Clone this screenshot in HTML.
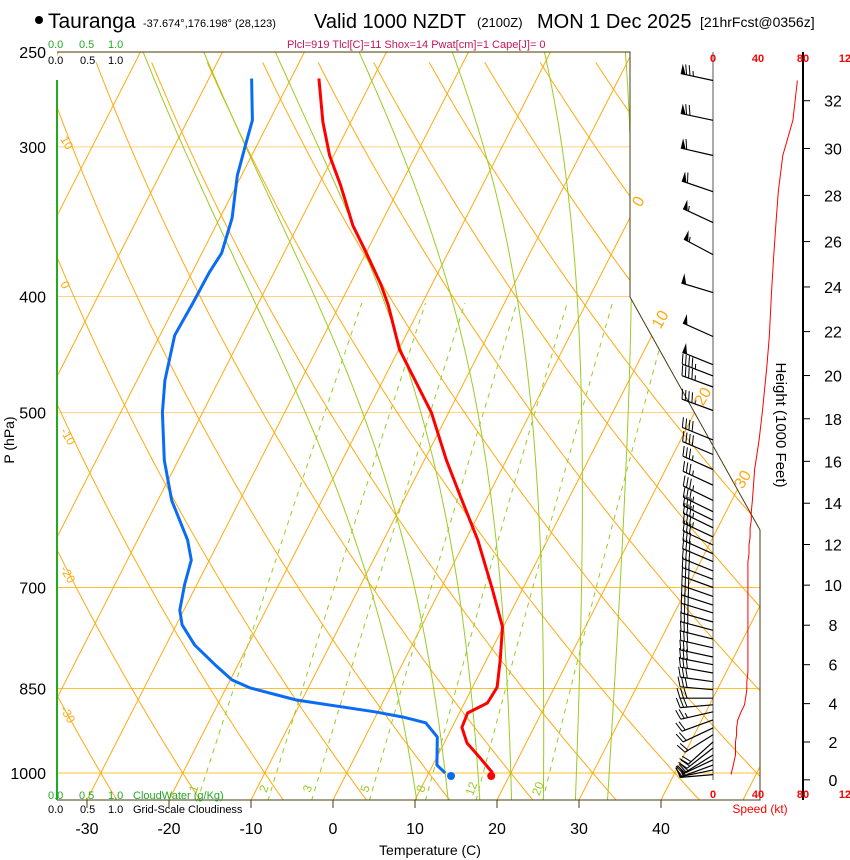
<!DOCTYPE html>
<html><head><meta charset="utf-8"><style>
body{margin:0;background:#fff;}
svg{display:block;font-family:"Liberation Sans",Arial,sans-serif;}
</style></head><body>
<svg id="chart" width="850" height="860" viewBox="0 0 850 860" xmlns="http://www.w3.org/2000/svg">
<defs><clipPath id="frameClip"><polygon points="57,52 630,52 630,297 760,530 760,800 57,800"/></clipPath></defs>
<rect x="0" y="0" width="850" height="860" fill="#fff"/>
<g id="grid" clip-path="url(#frameClip)"></g>
<g id="profiles" clip-path="url(#frameClip)"></g>
<g id="frame">
<polyline points="57,52 630,52 630,297 760,530 760,800 57,800" fill="none" stroke="#4a3c10" stroke-width="1"/>
<line x1="57" y1="80" x2="57" y2="800" stroke="#22aa22" stroke-width="2"/>
<line x1="713" y1="52" x2="713" y2="780" stroke="#555" stroke-width="1"/>
<line x1="803" y1="52" x2="803" y2="800" stroke="#000" stroke-width="2"/>
</g>
<g id="winds"></g>
<g id="labels">
<circle cx="39" cy="20" r="4" fill="#000"/>
<text x="48" y="28" font-size="21">Tauranga</text>
<text x="143" y="27" font-size="11">-37.674°,176.198° (28,123)</text>
<text x="314" y="28" font-size="20">Valid 1000 NZDT</text>
<text x="477" y="27" font-size="13">(2100Z)</text>
<text x="537" y="28" font-size="20">MON 1 Dec 2025</text>
<text x="700" y="27" font-size="14">[21hrFcst@0356z]</text>
<text x="287" y="48" font-size="11" fill="#c0185a">Plcl=919 Tlcl[C]=11 Shox=14 Pwat[cm]=1 Cape[J]= 0</text>
<text x="48" y="48" font-size="11" fill="#22aa22">0.0 <tspan x="79">0.5</tspan><tspan x="108">1.0</tspan></text>
<text x="48" y="64" font-size="11" fill="#000">0.0 <tspan x="80">0.5</tspan><tspan x="108">1.0</tspan></text>
<text x="48" y="799" font-size="11" fill="#22aa22">0.0 <tspan x="79">0.5</tspan><tspan x="108">1.0</tspan><tspan x="133">CloudWater (g/Kg)</tspan></text>
<text x="48" y="813" font-size="11" fill="#000">0.0 <tspan x="80">0.5</tspan><tspan x="108">1.0</tspan><tspan x="133">Grid-Scale Cloudiness</tspan></text>
<text x="430" y="855" font-size="14" text-anchor="middle">Temperature (C)</text>
<text x="0" y="0" font-size="14" text-anchor="middle" transform="translate(14,440) rotate(-90)">P (hPa)</text>
<text x="0" y="0" font-size="15" text-anchor="middle" transform="translate(776,425) rotate(90)">Height (1000 Feet)</text>
<text x="760" y="813" font-size="12" fill="#ff0000" text-anchor="middle">Speed (kt)</text>
</g>
</svg>
<script>
// ---- data ----
const pressureTicks = [250, 300, 400, 500, 700, 850, 1000];
const tempTicks = [-30, -20, -10, 0, 10, 20, 30, 40];
const speedTicks = [0, 40, 80, 120];
const heightTicks = [0, 2, 4, 6, 8, 10, 12, 14, 16, 18, 20, 22, 24, 26, 28, 30, 32];
const tempP = [263, 286, 305, 323, 349, 367, 391, 407, 443, 500, 548, 592, 639, 702, 755, 805, 848, 874, 891, 916, 944, 970, 1000];
const tempC = [-46.6, -43.4, -40.5, -37.3, -33.3, -30.1, -26.2, -24.0, -19.9, -12.1, -7.3, -2.9, 1.5, 6.3, 9.9, 11.7, 13.0, 12.8, 11.0, 11.2, 12.8, 15.2, 17.8];
const dewP = [263, 285, 297, 317, 344, 368, 382, 405, 431, 470, 500, 548, 592, 639, 664, 696, 731, 752, 782, 812, 836, 849, 869, 889, 898, 908, 933, 985, 1000];
const dewC = [-54.8, -52.1, -51.5, -50.5, -48.5, -47.6, -47.9, -48.0, -48.2, -46.6, -44.9, -41.7, -38.3, -33.9, -32.2, -31.5, -30.5, -29.3, -26.5, -22.8, -19.8, -17.1, -10.7, -0.4, 3.4, 6.5, 8.8, 10.5, 12.0];
const sfcTemp = 17.8;
const sfcDew = 12.9;
const windP = [264, 285, 305, 327, 347, 369, 397, 432, 456, 466, 476, 498, 527, 542, 558, 575, 592,
  605, 615, 624, 635, 645, 656, 666, 678, 689, 700, 712, 724, 735, 748, 760, 773, 786, 800, 812, 825,
  839, 852, 866, 877, 889, 903, 917, 929, 942, 953, 966, 975, 985, 994, 1003];
const windSpd = [75, 71, 62, 58, 56, 54, 52, 50, 48, 47, 46, 44, 41, 39, 37, 36, 35,
  34, 34, 33, 33, 32, 32, 31, 31, 31, 31, 31, 31, 31, 31, 31, 31, 31, 31, 31, 31,
  30, 30, 29, 28, 25, 22, 21, 21, 20, 20, 20, 19, 18, 17, 16];
const windDir = [282, 282, 283, 289, 295, 298, 287, 294, 292, 291, 290, 290, 292, 293, 294, 295, 296,
  296, 296, 296, 295, 295, 294, 293, 292, 291, 290, 289, 288, 287, 286, 285, 284, 283, 282, 281, 280,
  278, 275, 270, 265, 257, 250, 245, 238, 228, 232, 238, 245, 250, 258, 265];
const dryThetas = [-40,-30,-20,-10,0,10,20,30,40,50,60,70,80,90,100,110,120,130,140,150,160,170,180,190,200];
const isotherms = [-110,-100,-90,-80,-70,-60,-50,-40,-30,-20,-10,0,10,20,30,40,50,60];
const moistStarts = [8, 12, 16, 20, 24, 28, 32];
const mixRatios = [1, 2, 3, 5, 8, 12, 20];

// ---- axes ----
const Y0 = 773, PSC = 520, X0 = 333, XSC = 8.2, SKEW = 0.51, YB = 800;
function yP(p){ return Y0 - PSC * Math.log(1000 / p); }
function xT(t, y){ return X0 + XSC * t + SKEW * (YB - y); }
function xSpd(s){ return 713 + s * 45 / 40; }
const NS = 'http://www.w3.org/2000/svg';
function mk(parent, tag, attrs, txt){
  const e = document.createElementNS(NS, tag);
  for (const k in attrs) e.setAttribute(k, attrs[k]);
  if (txt !== undefined) e.textContent = txt;
  parent.appendChild(e); return e;
}
const grid = document.getElementById('grid');
const prof = document.getElementById('profiles');
const winds = document.getElementById('winds');
const labels = document.getElementById('labels');
const ORANGE = '#ffaa11', GREEN = '#99cc22';

// isobars
pressureTicks.forEach(p => {
  const y = yP(p);
  const el = mk(grid, 'line', {x1: 57, x2: 760, y1: y, y2: y, stroke: p >= 700 ? '#ffc030' : '#ffd080', 'stroke-width': 1});
  
  
  const t = mk(labels, 'text', {x: 46, y: y + 6, 'font-size': 16, 'text-anchor': 'end'}, String(p));
  
  
});
// isotherms
isotherms.forEach(T => {
  const el = mk(grid, 'line', {x1: xT(T, 800), y1: 800, x2: xT(T, 52), y2: 52, stroke: ORANGE, 'stroke-width': 1});
  
  
});
// dry adiabats
function pList(){ const a = []; for (let p = 1055; p >= 248; p -= 8) a.push(p); return a; }
dryThetas.forEach(th => {
  const pts = pList().map(p => { const T = (th + 273.15) * Math.pow(p / 1000, 0.2857) - 273.15; const y = yP(p); return xT(T, y).toFixed(1) + ',' + y.toFixed(1); });
  const el = mk(grid, 'polyline', {points: pts.join(' '), fill: 'none', stroke: ORANGE, 'stroke-width': 1});
  
  
});
// moist adiabats
function dTdp(p, T){
  const Tc = T - 273.15; const es = 6.112 * Math.exp(17.67 * Tc / (Tc + 243.5)); const rs = 1.15 * 0.622 * es / (p - es);
  const num = 287.04 * T + 2.501e6 * rs; const den = 1004 + 2.501e6 * 2.501e6 * rs * 0.622 / (287.04 * T * T);
  return num / den / p;
}
moistStarts.forEach(t0 => {
  const up = []; let T = t0 + 273.15;
  for (let p = 1000; p >= 248; p -= 2){ up.push([p, T]); T -= dTdp(p, T) * 2; }
  const down = []; T = t0 + 273.15;
  for (let p = 1000; p <= 1056; p += 2){ down.push([p, T]); T += dTdp(p, T) * 2; }
  const all = down.reverse().concat(up);
  const pts = all.map(([p, Tk]) => { const y = yP(p); return xT(Tk - 273.15, y).toFixed(1) + ',' + y.toFixed(1); });
  const el = mk(grid, 'polyline', {points: pts.join(' '), fill: 'none', stroke: GREEN, 'stroke-width': 1});
  
  
});
// mixing ratio lines
mixRatios.forEach(w => {
  const pts = [];
  for (let p = 1055; p >= 400; p -= 10){
    const es = (w / 1000) * p / (0.622 + w / 1000); const l = Math.log(es / 6.112);
    const Td = 243.5 * l / (17.67 - l); const y = yP(p); pts.push(xT(Td, y).toFixed(1) + ',' + y.toFixed(1));
  }
  const el = mk(grid, 'polyline', {points: pts.join(' '), fill: 'none', stroke: GREEN, 'stroke-width': 1, 'stroke-dasharray': '5,5'});
  
  
  const es = (w / 1000) * 1030 / (0.622 + w / 1000); const l = Math.log(es / 6.112); const Td = 243.5 * l / (17.67 - l);
  const lx = xT(Td, yP(1030)) - 4, ly = 790;
  const t = mk(labels, 'text', {x: 0, y: 0, 'font-size': 12, fill: GREEN, 'text-anchor': 'middle', transform: 'translate(' + lx.toFixed(1) + ',' + ly + ') rotate(-70)'}, String(w));
  
  
});
// dry adiabat labels on left, isotherm labels on right
[[10,145],[0,290],[-10,437],[-20,575],[-30,715]].forEach(([v, y]) => {
  const t = mk(labels, 'text', {x: 0, y: 0, 'font-size': 12, fill: ORANGE, transform: 'translate(60,' + (y - 6) + ') rotate(60)'}, String(v));
  
  
});
[[0,200],[10,318],[20,395],[30,478]].forEach(([v, y]) => {
  const t = mk(labels, 'text', {x: 0, y: 0, 'font-size': 16, fill: ORANGE, 'text-anchor': 'middle', transform: 'translate(' + (xT(v, y) + 4).toFixed(1) + ',' + (y + 4) + ') rotate(-60)'}, String(v));
  
  
});
// temperature ticks
tempTicks.forEach(T => {
  const x = X0 + XSC * T;
  const l = mk(labels, 'line', {x1: x, x2: x, y1: 800, y2: 808, stroke: '#4a3c10'});
  
  
  const t = mk(labels, 'text', {x: x, y: 834, 'font-size': 16, 'text-anchor': 'middle'}, String(T));
  
  
});
// speed ticks
speedTicks.forEach(s => {
  [62, 798].forEach(yy => {
    const t = mk(labels, 'text', {x: xSpd(s), y: yy, 'font-size': 11, 'font-weight': 'bold', fill: '#ff0000', 'text-anchor': 'middle'}, String(s));
    
    
  });
});
// height ticks
heightTicks.forEach(h => {
  const p = 1013.25 * Math.pow(1 - 2.25577e-5 * h * 304.8, 5.25588);
  const y = yP(p);
  const l = mk(labels, 'line', {x1: 803, x2: 810, y1: y, y2: y, stroke: '#000'});
  
  
  const t = mk(labels, 'text', {x: 833, y: y + 6, 'font-size': 16, 'text-anchor': 'middle'}, String(h));
  
  
});
// profiles
function profPts(P, T){ return P.map((p, i) => { const y = yP(p); return xT(T[i], y).toFixed(1) + ',' + y.toFixed(1); }).join(' '); }
const dl = mk(prof, 'polyline', {points: profPts(dewP, dewC), fill: 'none', stroke: '#0a6cf5', 'stroke-width': 3, 'stroke-linejoin': 'round'});


const tl = mk(prof, 'polyline', {points: profPts(tempP, tempC), fill: 'none', stroke: '#ff0000', 'stroke-width': 3, 'stroke-linejoin': 'round'});


const dd = mk(prof, 'circle', {cx: xT(sfcDew, yP(1000) + 3), cy: yP(1000) + 3, r: 4, fill: '#0a6cf5'});


const td = mk(prof, 'circle', {cx: xT(sfcTemp, yP(1000) + 3), cy: yP(1000) + 3, r: 4, fill: '#ff0000'});


// speed profile
const sp = mk(winds, 'polyline', {points: windP.map((p, i) => xSpd(windSpd[i]).toFixed(1) + ',' + yP(p).toFixed(1)).join(' '), fill: 'none', stroke: '#ff0000', 'stroke-width': 1});


// barbs
const L = 33;
windP.forEach((p, i) => {
  const sx = 713, sy = yP(p);
  const d = windDir[i] * Math.PI / 180;
  const ux = Math.sin(d), uy = -Math.cos(d);
  const nx = -uy, ny = ux;
  const ex = sx + L * ux, ey = sy + L * uy;
  const g = mk(winds, 'g', {});
  
  
  mk(g, 'line', {x1: sx, y1: sy.toFixed(1), x2: ex.toFixed(1), y2: ey.toFixed(1), stroke: '#000', 'stroke-width': 1.2});
  let s = Math.round(windSpd[i] / 5) * 5;
  let off = 0;
  const pen = Math.floor(s / 50); s -= pen * 50;
  for (let k = 0; k < pen; k++){
    const ax = ex - ux * off, ay = ey - uy * off, bx = ex - ux * (off + 5), by = ey - uy * (off + 5);
    mk(g, 'polygon', {points: [ax, ay, ax + nx * 10, ay + ny * 10, bx, by].map(v => v.toFixed(1)).join(','), fill: '#000'});
    off += 6;
  }
  const full = Math.floor(s / 10); const half = (s % 10) >= 5;
  for (let k = 0; k < full; k++){
    const ax = ex - ux * off, ay = ey - uy * off;
    mk(g, 'line', {x1: ax.toFixed(1), y1: ay.toFixed(1), x2: (ax + nx * 10 + ux * 3).toFixed(1), y2: (ay + ny * 10 + uy * 3).toFixed(1), stroke: '#000', 'stroke-width': 1});
    off += 3.5;
  }
  if (half){
    const ax = ex - ux * off, ay = ey - uy * off;
    mk(g, 'line', {x1: ax.toFixed(1), y1: ay.toFixed(1), x2: (ax + nx * 5 + ux * 1.5).toFixed(1), y2: (ay + ny * 5 + uy * 1.5).toFixed(1), stroke: '#000', 'stroke-width': 1});
  }
});
</script>
</body></html>
